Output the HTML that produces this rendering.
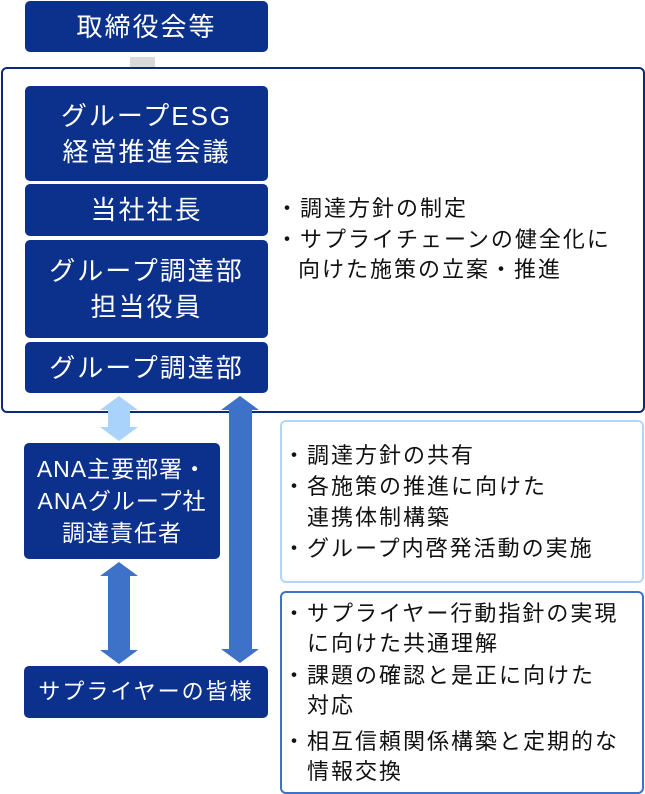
<!DOCTYPE html>
<html><head><meta charset="utf-8"><style>
body{margin:0;width:645px;height:794px;background:#fff;position:relative;overflow:hidden;font-family:"Liberation Sans","Noto Sans CJK JP",sans-serif}
.b{position:absolute;background:#0c318c;color:#fff;border-radius:5px;display:flex;align-items:center;justify-content:center;text-align:center;font-size:26px;letter-spacing:2px;line-height:36px}
.t{position:absolute;font-size:22px;letter-spacing:2px;color:#111;white-space:nowrap;line-height:30px}
.bx{position:absolute;border-radius:6px;background:#fff}
</style></head><body>
<div class="b" style="left:25px;top:1px;width:243px;height:51px">取締役会等</div>
<div style="position:absolute;left:130px;top:57px;width:25px;height:28px;background:#d9d9d9"></div>
<div class="bx" style="left:1px;top:67px;width:640px;height:342px;border:2px solid #0c2a78"></div>
<div class="b" style="left:25px;top:86px;width:243px;height:95px">グループESG<br>経営推進会議</div>
<div class="b" style="left:25px;top:184px;width:243px;height:52px">当社社長</div>
<div class="b" style="left:25px;top:240px;width:243px;height:98px">グループ調達部<br>担当役員</div>
<div class="b" style="left:25px;top:342px;width:243px;height:51px">グループ調達部</div>
<div class="t" style="left:276px;top:194px">・調達方針の制定</div>
<div class="t" style="left:276px;top:225px">・サプライチェーンの健全化に</div>
<div class="t" style="left:298px;top:255px">向けた施策の立案・推進</div>
<svg style="position:absolute;left:0;top:0" width="645" height="794">
<polygon points="119,396 138,410 130,410 130,427 138,427 119,441 100,427 108,427 108,410 100,410" fill="#a9d3fb"/>
<polygon points="119,562 138,576 130,576 130,650 138,650 119,664 100,650 108,650 108,576 100,576" fill="#3d72c8"/>
<polygon points="240,396 259,410 252,410 252,649 259,649 240,663 221,649 229,649 229,410 221,410" fill="#3d72c8"/>
</svg>
<div class="b" style="left:24px;top:443px;width:196px;height:116px;line-height:32px;font-size:23px;letter-spacing:1px">ANA主要部署・<br>ANAグループ社<br>調達責任者</div>
<div class="b" style="left:24px;top:666px;width:244px;height:52px;font-size:22px;letter-spacing:2px">サプライヤーの皆様</div>
<div class="bx" style="left:280px;top:420px;width:360px;height:159px;border:2px solid #b3d6f7"></div>
<div class="t" style="left:283px;top:441px">・調達方針の共有</div>
<div class="t" style="left:283px;top:472px">・各施策の推進に向けた</div>
<div class="t" style="left:307px;top:503px">連携体制構築</div>
<div class="t" style="left:283px;top:534px">・グループ内啓発活動の実施</div>
<div class="bx" style="left:280px;top:591px;width:360px;height:199px;border:2px solid #3d72c8"></div>
<div class="t" style="left:283px;top:599px">・サプライヤー行動指針の実現</div>
<div class="t" style="left:307px;top:629px">に向けた共通理解</div>
<div class="t" style="left:283px;top:661px">・課題の確認と是正に向けた</div>
<div class="t" style="left:307px;top:691px">対応</div>
<div class="t" style="left:283px;top:727px">・相互信頼関係構築と定期的な</div>
<div class="t" style="left:307px;top:757px">情報交換</div>
</body></html>
